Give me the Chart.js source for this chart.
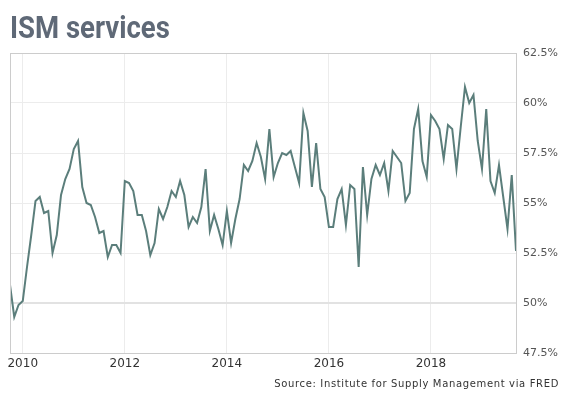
<!DOCTYPE html>
<html>
<head>
<meta charset="utf-8">
<script src="https://cdn.jsdelivr.net/npm/chart.js@4"></script>
<style>
  body { margin: 0; background: #fff; }
  #wrap { position: relative; width: 569px; height: 398px; }
  #chart { position: absolute; left: 0; top: 0; }
  #title { position: absolute; left: 10px; top: 11px; font: bold 32px Roboto, sans-serif; color: #5f6977; transform: scaleX(0.86); transform-origin: left top; line-height: 32px; white-space: nowrap; }
  #source { position: absolute; right: 10px; top: 378px; font: 10px "DejaVu Sans", sans-serif; letter-spacing: 0.65px; color: #333; line-height: 12px; white-space: nowrap; }
</style>
</head>
<body>
<div id="wrap">
  <canvas id="chart" width="569" height="398"></canvas>
  <div id="title">ISM services</div>
  <div id="source">Source: Institute for Supply Management via FRED</div>
</div>
<script>
// Serie mensual, de oct 2009 a sep 2019
const startYear = 2009;
const startMonth = 9; // octubre (0 = enero)
const ismValues = [
  50.9, 49.3, 49.9, 50.1, 51.8, 53.4, 55.1, 55.3, 54.5, 54.6, 52.5, 53.4,
  55.4, 56.2, 56.7, 57.7, 58.1, 55.8, 55.0, 54.9, 54.3, 53.5, 53.6, 52.3,
  52.9, 52.9, 52.5, 56.1, 56.0, 55.6, 54.4, 54.4, 53.6, 52.4, 53.0, 54.7,
  54.2, 54.8, 55.6, 55.3, 56.1, 55.4, 53.8, 54.3, 54.0, 54.8, 56.7, 53.6,
  54.4, 53.7, 52.9, 54.6, 53.0, 54.2, 55.2, 56.9, 56.6, 57.1, 58.0, 57.3,
  56.2, 58.7, 56.3, 57.0, 57.5, 57.4, 57.6, 56.8, 56.0, 59.5, 58.6, 55.8,
  58.0, 55.7, 55.3, 53.8, 53.8, 55.2, 55.7, 53.9, 55.9, 55.7, 51.8, 56.8,
  54.4, 56.2, 56.9, 56.4, 57.0, 55.6, 57.6, 57.3, 57.0, 55.1, 55.5, 58.7,
  59.7, 57.1, 56.3, 59.4, 59.1, 58.7, 57.2, 58.9, 58.7, 56.7, 58.8, 60.8,
  60.0, 60.4, 58.1, 56.7, 59.7, 56.1, 55.5, 56.9, 55.3, 53.7, 56.4, 52.6
];
const xTicks = [2010, 2012, 2014, 2016, 2018];
const yTicks = [47.5, 50, 52.5, 55, 57.5, 60, 62.5];

const points = ismValues.map((v, i) => ({ x: startYear + (startMonth + i) / 12, y: v }));

// Marco gris alrededor del área del gráfico
const framePlugin = {
  id: 'frame',
  afterDraw(chart) {
    const { ctx, chartArea: a } = chart;
    ctx.save();
    ctx.strokeStyle = '#cccccc';
    ctx.lineWidth = 1;
    ctx.strokeRect(a.left + 0.5, a.top + 0.5, a.right - a.left, a.bottom - a.top);
    ctx.restore();
  }
};

new Chart(document.getElementById('chart'), {
  type: 'line',
  data: {
    datasets: [{
      data: points,
      borderColor: '#5b7e7b',
      borderWidth: 2,
      pointRadius: 0,
      tension: 0,
      fill: false
    }]
  },
  options: {
    responsive: false,
    animation: false,
    layout: { padding: { left: 10, top: 53, right: 0, bottom: 0 } },
    plugins: { legend: { display: false }, tooltip: { enabled: false } },
    scales: {
      x: {
        type: 'linear',
        min: points[0].x,
        max: points[points.length - 1].x,
        afterBuildTicks: (scale) => { scale.ticks = xTicks.map(v => ({ value: v })); },
        afterFit: (scale) => { scale.height = 45; },
        grid: { color: '#ececec', drawTicks: false },
        border: { display: false },
        ticks: {
          padding: 4,
          color: '#333',
          font: { family: 'DejaVu Sans', size: 12 },
          callback: (v) => String(v)
        }
      },
      y: {
        position: 'right',
        min: 47.5,
        max: 62.5,
        afterBuildTicks: (scale) => { scale.ticks = yTicks.map(v => ({ value: v })); },
        afterFit: (scale) => { scale.width = 53; },
        grid: {
          drawTicks: false,
          color: (c) => c.tick && c.tick.value === 50 ? '#e2e2e2' : '#ececec',
          lineWidth: (c) => c.tick && c.tick.value === 50 ? 2 : 1
        },
        border: { display: false },
        ticks: {
          padding: 7,
          color: '#555',
          font: { family: 'DejaVu Sans', size: 11 },
          callback: (v) => v + '%'
        }
      }
    }
  },
  plugins: [framePlugin]
});
</script>
</body>
</html>
